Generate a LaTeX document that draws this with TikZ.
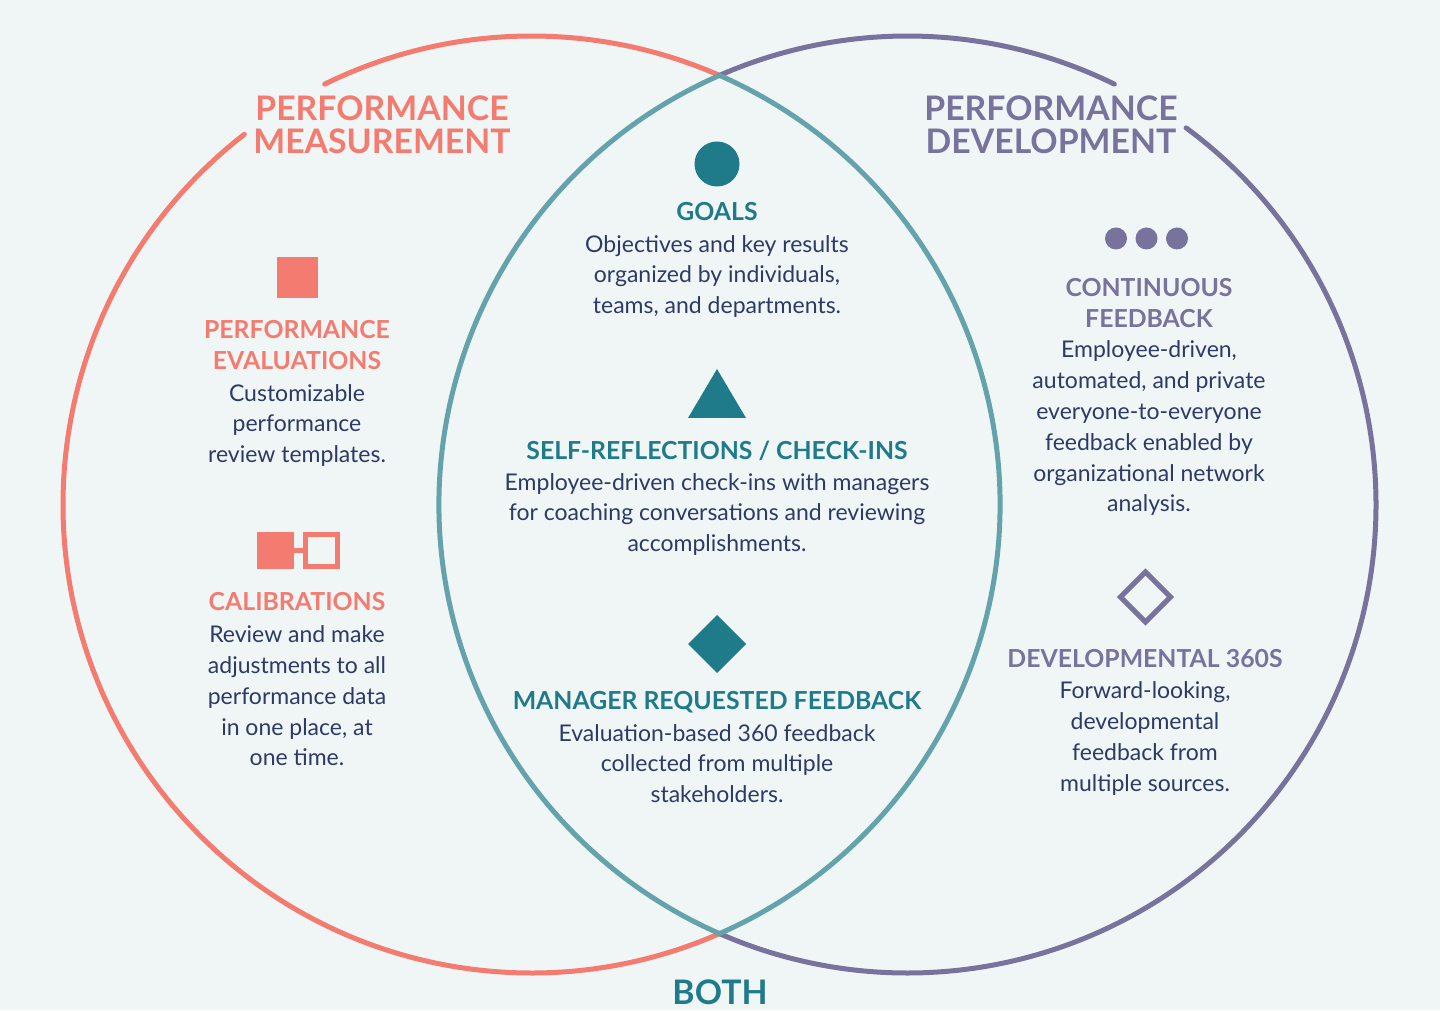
\documentclass[tikz,border=0pt]{standalone}
\usepackage{fontspec}
\setmainfont{Lato}
\usetikzlibrary{positioning,shapes.geometric}
\definecolor{bgpale}{HTML}{F0F6F6}
\definecolor{coral}{HTML}{F47B6F}
\definecolor{violet}{HTML}{77739C}
\definecolor{lensteal}{HTML}{64A2AC}
\definecolor{deepteal}{HTML}{1F7A8A}
\definecolor{navy}{HTML}{2D3A66}
\tikzset{
  ring/.style={line width=5pt, line cap=round},
  bigtitle/.style={align=center, inner sep=0pt, font=\fontsize{33.8}{33}\selectfont\bfseries},
  heading/.style={align=center, inner sep=0pt, font=\fontsize{24.8}{31}\selectfont\bfseries},
  bodytext/.style={align=center, inner sep=0pt, text=navy, font=\fontsize{23}{30.8}\selectfont},
  icon/.style={inner sep=0pt, outer sep=0pt},
  dotmark/.style={icon, circle, fill=violet, minimum size=22pt}
}
\begin{document}
\begin{tikzpicture}[x=1pt, y=1pt, node distance=30.5pt]
\useasboundingbox (0,0) rectangle (1440,1010);
\fill[bgpale] (0,0) rectangle (1440,1010);

\coordinate (cLeft) at (531.5,505.5);
\coordinate (cRight) at (907.5,505.5);

% rings
\draw[ring, coral] (cLeft) ++(66.4:468.5) arc[start angle=66.4, end angle=116.2, radius=468.5];
\draw[ring, coral] (cLeft) ++(127.8:468.5) arc[start angle=127.8, end angle=293.6, radius=468.5];
\draw[ring, violet] (cRight) ++(113.6:468.5) arc[start angle=113.6, end angle=63.8, radius=468.5];
\draw[ring, violet] (cRight) ++(53.5:468.5) arc[start angle=53.5, end angle=-113.6, radius=468.5];
\draw[ring, lensteal] (cLeft) ++(66.4:468.5) arc[start angle=66.4, end angle=-66.4, radius=468.5];
\draw[ring, lensteal] (cRight) ++(113.6:468.5) arc[start angle=113.6, end angle=246.4, radius=468.5];

% titles
\node[bigtitle, text=coral] (measure) at (382,885) {PERFORMANCE\\MEASUREMENT};
\node[bigtitle, text=violet] (develop) at (1051,885) {PERFORMANCE\\DEVELOPMENT};
\node[bigtitle, text=deepteal] (both) at (720,18) {BOTH};

% left column
\node[icon, fill=coral, minimum size=41pt] (evalMark) at (297.5,732.5) {};
\node[heading, text=coral] (evalHead) at (297,664.5) {PERFORMANCE\\EVALUATIONS};
\node[bodytext] (evalBody) at (297,584.5) {Customizable\\performance\\review templates.};

\node[icon, fill=coral, minimum size=37.5pt] (calFull) at (275.5,459.5) {};
\node[icon, draw=coral, line width=5pt, minimum size=32.5pt] (calOpen) at (321.5,459.5) {};
\draw[coral, line width=5pt] (calFull) -- (calOpen);
\node[heading, text=coral] (calHead) at (297,408) {CALIBRATIONS};
\node[bodytext] (calBody) at (297,314) {Review and make\\adjustments to all\\performance data\\in one place, at\\one time.};

% middle column
\node[icon, circle, fill=deepteal, minimum size=45pt] (goalMark) at (717,846) {};
\node[heading, text=deepteal] (goalHead) at (717,798) {GOALS};
\node[bodytext] (goalBody) at (717,733.5) {Objectives and key results\\organized by individuals,\\teams, and departments.};

\fill[deepteal] (717,641) -- (746,592) -- (688,592) -- cycle;
\node[heading, text=deepteal] (selfHead) at (717,559) {SELF-REFLECTIONS / CHECK-INS};
\node[bodytext] (selfBody) at (717,495.5) {Employee-driven check-ins with managers\\for coaching conversations and reviewing\\accomplishments.};

\node[icon, diamond, aspect=1, fill=deepteal, minimum size=58pt] (mgrMark) at (717,366) {};
\node[heading, text=deepteal] (mgrHead) at (717,308) {MANAGER REQUESTED FEEDBACK};
\node[bodytext] (mgrBody) at (717,246.5) {Evaluation-based 360 feedback\\collected from multiple\\stakeholders.};

% right column
\node[dotmark] (dotA) at (1116,771.5) {};
\node[dotmark, right of=dotA] (dotB) {};
\node[dotmark, right of=dotB] (dotC) {};
\node[heading, text=violet] (contHead) at (1149,707) {CONTINUOUS\\FEEDBACK};
\node[bodytext] (contBody) at (1149,581.5) {Employee-driven,\\automated, and private\\everyone-to-everyone\\feedback enabled by\\organizational network\\analysis.};

\node[icon, diamond, aspect=1, draw=violet, line width=5pt, minimum size=50pt] (devMark) at (1145.5,413) {};
\node[heading, text=violet] (devHead) at (1145,351) {DEVELOPMENTAL 360S};
\node[bodytext] (devBody) at (1145,271.5) {Forward-looking,\\developmental\\feedback from\\multiple sources.};
\end{tikzpicture}
\end{document}
